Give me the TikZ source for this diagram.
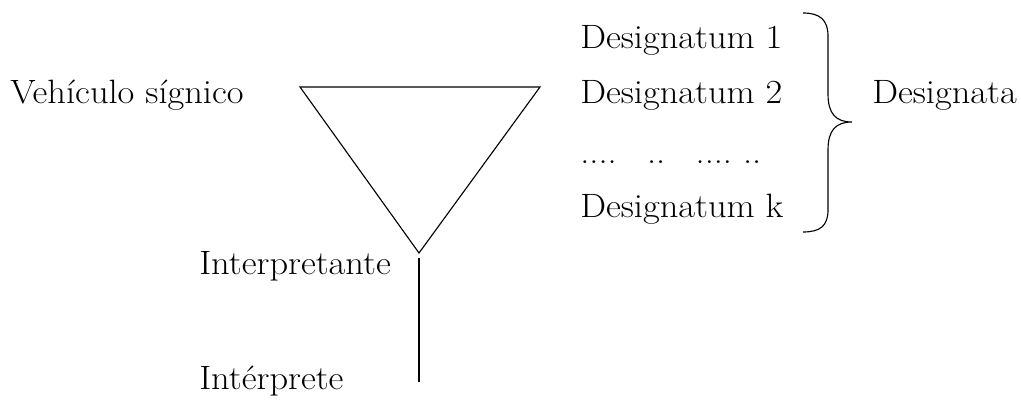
\documentclass[tikz,border=0pt]{standalone}
\usepackage{fontspec}
\setmainfont{Latin Modern Roman}[FakeStretch=1.08]
\usepackage{tikz}
\tikzset{
  lbl/.style={anchor=base west,inner sep=0pt,font=\fontsize{24}{28}\selectfont},
  thinline/.style={line width=.8pt}
}

\begin{document}
\begin{tikzpicture}
  \useasboundingbox (0,0) rectangle (25.525,10.05);
  % triangle (sign vehicle)
  \coordinate (tl) at (7.5,7.875);
  \coordinate (tr) at (13.5,7.875);
  \coordinate (tb) at (10.475,3.725);
  \draw[thinline,line join=miter] (tl)--(tr)--(tb)--cycle;
  % interpretant stem
  \coordinate (st) at (10.475,3.6);
  \coordinate (sb) at (10.475,.5);
  \draw[thinline] (st)--(sb);
  \node[lbl] (veh) at (.25,7.45) {Vehículo sígnico};
  \node[lbl] (int) at (4.975,3.175) {Interpretante};
  \node[lbl] (itp) at (4.975,.3) {Intérprete};
  \foreach \y/\name/\txt in {8.825/d1/Designatum 1,7.45/d2/Designatum 2,4.6/dk/Designatum k} {
    \node[lbl] (\name) at (14.5,\y) {\txt};
  }
  \node[lbl] (dots) at (14.5,5.95) {....\hspace{.9em}..\hspace{.9em}....\ ..};
  % brace
  \coordinate (bt) at (20.075,9.725);
  \coordinate (bb) at (20.075,4.25);
  \coordinate (tip) at (21.3,7.0);
  \draw[thinline] (bt) .. controls (20.5,9.725) and (20.7,9.55) .. (20.7,9.15)
    -- (20.7,7.7) .. controls (20.7,7.2) and (20.9,7.0) .. (tip)
    .. controls (20.9,7.0) and (20.7,6.8) .. (20.7,6.3)
    -- (20.7,4.8) .. controls (20.7,4.4) and (20.5,4.25) .. (bb);
  \node[lbl] (dta) at (21.8,7.45) {Designata};
\end{tikzpicture}
\end{document}
